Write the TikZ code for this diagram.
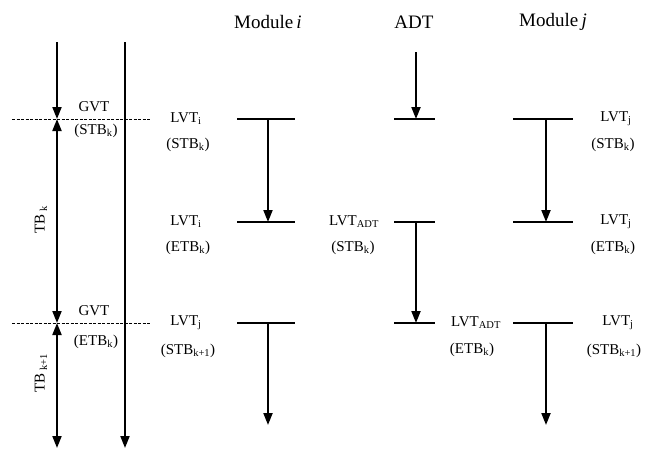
\documentclass[tikz,border=0pt]{standalone}
\usepackage{fontspec}
\setmainfont{Liberation Serif}
\usetikzlibrary{positioning}
\usetikzlibrary{arrows.meta}
\tikzstyle{axis} = [line width=2.4pt]
\tikzstyle{bar} = [line width=2.8pt]
\tikzstyle{flow} = [line width=2pt, >={Triangle[length=12pt,width=9pt]}]
\tikzstyle{cut} = [line width=1pt, dash pattern=on 3pt off 1.5pt]
\tikzstyle{lbl} = [font=\fontsize{15}{17}\selectfont, inner sep=1pt]
\tikzstyle{head} = [font=\fontsize{19}{21}\selectfont, inner sep=1pt]

\begin{document}
\begin{tikzpicture}[x=1pt, y=-1pt, node distance=14pt]
    \useasboundingbox (0,0) rectangle (654,451);

    % time axes on the left
    \coordinate (tA) at (57,42);
    \coordinate (g1) at (57,119);
    \coordinate (g2) at (57,323);
    \coordinate (bA) at (57,448);
    \coordinate (tB) at (125,42);
    \coordinate (bB) at (125,448);
    \draw[cut] (12,119) -- (150,119);
    \draw[cut] (12,323) -- (150,323);
    \draw[axis, flow, ->] (tA) -- (g1);
    \draw[axis, flow, <->] (g1) -- (g2);
    \draw[axis, flow, <->] (g2) -- (bA);
    \draw[axis, flow, ->] (tB) -- (bB);

    \node[lbl] (gvt1) at (94,107) {GVT};
    \node[lbl] (stb0) at (96,131) {(STB\textsubscript{k})};
    \node[lbl] (gvt2) at (94,311) {GVT};
    \node[lbl] (etb0) at (96,342) {(ETB\textsubscript{k})};
    \node[lbl, rotate=90] (tbk) at (41,220) {TB\textsubscript{ k}};
    \node[lbl, rotate=90] (tbk1) at (41,373) {TB\textsubscript{ k+1}};

    % column headers
    \node[head] (modi) at (268,22) {Module\,\textit{i}};
    \node[head] (adt) at (414,22) {ADT};
    \node[head] (modj) at (553,22) {Module\,\textit{j}};

    % LVT bars for each column
    \foreach \lev/\y in {1/119, 2/222, 3/323} {
        \draw[bar] (237,\y) -- (295,\y);
        \draw[bar] (394,\y) -- (435,\y);
        \draw[bar] (513,\y) -- (573,\y);
        \coordinate (mi\lev) at (268,\y);
        \coordinate (ad\lev) at (416,\y);
        \coordinate (mj\lev) at (546,\y);
    }
    \coordinate (miend) at (268,425);
    \coordinate (mjend) at (546,425);
    \coordinate (adtop) at (416,52);

    \draw[flow, ->] (mi1) -- (mi2);
    \draw[flow, ->] (mi3) -- (miend);
    \draw[flow, ->] (adtop) -- (ad1);
    \draw[flow, ->] (ad2) -- (ad3);
    \draw[flow, ->] (mj1) -- (mj2);
    \draw[flow, ->] (mj3) -- (mjend);

    % Module i labels
    \node[lbl] (lvti1) at (186,119) {LVT\textsubscript{i}};
    \node[lbl] (stbi1) at (188,145) {(STB\textsubscript{k})};
    \node[lbl] (lvti2) at (186,222) {LVT\textsubscript{i}};
    \node[lbl] (etbi2) at (188,248) {(ETB\textsubscript{k})};
    \node[lbl] (lvti3) at (186,323) {LVT\textsubscript{j}};
    \node[lbl] (stbi3) at (188,351) {(STB\textsubscript{k+1})};

    % ADT labels
    \node[lbl] (lvta2) at (354,222) {LVT\textsubscript{ADT}};
    \node[lbl] (stba2) at (353,248) {(STB\textsubscript{k})};
    \node[lbl] (lvta3) at (476,323) {LVT\textsubscript{ADT}};
    \node[lbl] (etba3) at (472,350) {(ETB\textsubscript{k})};

    % Module j labels
    \node[lbl] (lvtj1) at (616,119) {LVT\textsubscript{j}};
    \node[lbl] (stbj1) at (613,145) {(STB\textsubscript{k})};
    \node[lbl] (lvtj2) at (616,222) {LVT\textsubscript{j}};
    \node[lbl] (etbj2) at (613,248) {(ETB\textsubscript{k})};
    \node[lbl] (lvtj3) at (618,323) {LVT\textsubscript{j}};
    \node[lbl] (stbj3) at (614,351) {(STB\textsubscript{k+1})};
\end{tikzpicture}
\end{document}
